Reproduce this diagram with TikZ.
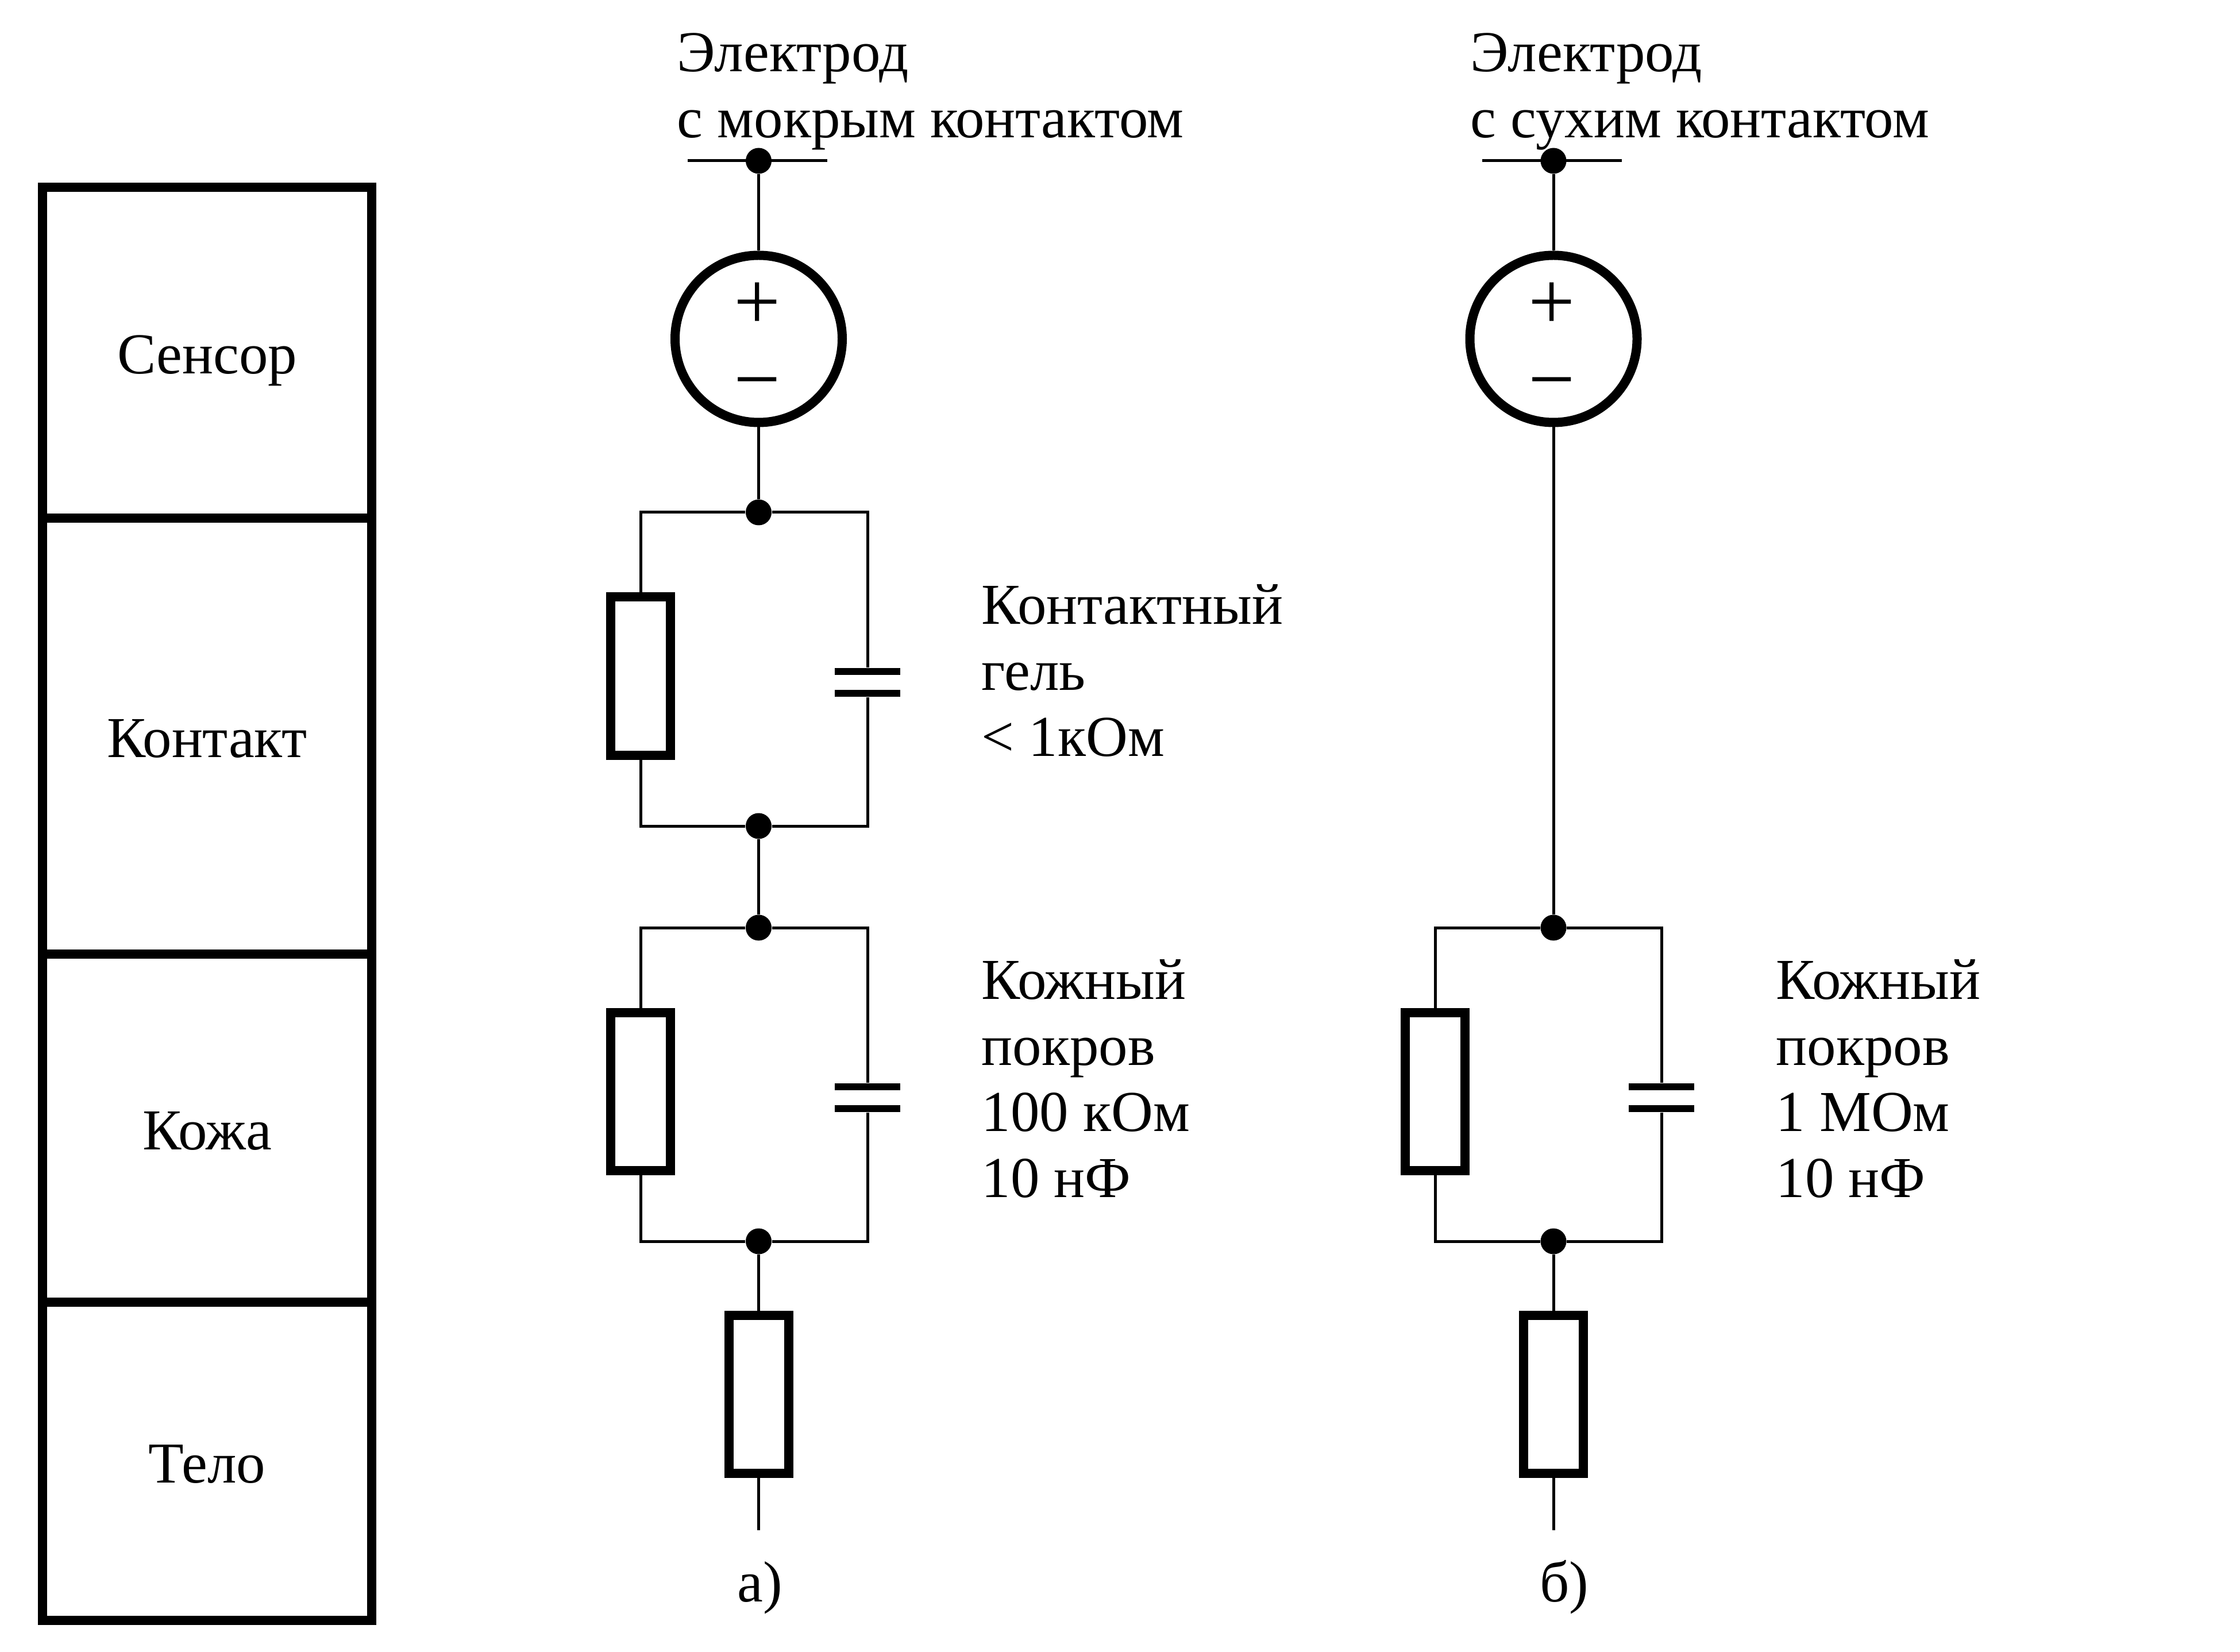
\documentclass[tikz,border=0pt]{standalone}
\usepackage{fontspec}
\setmainfont{Liberation Serif}
\usetikzlibrary{positioning}
\tikzset{
    wire/.style={line width=.05cm},
    junction/.style={circle, fill=black, minimum size=.45cm, inner sep=0pt},
    layerbox/.style={draw, line width=.16cm, minimum width=5.73cm, inner sep=0pt,
          text height=.74cm, text depth=0pt},
    resistor/.style={draw, line width=.16cm, minimum width=1.04cm, minimum height=2.75cm, inner sep=0pt},
    source/.style={circle, draw, line width=.16cm, minimum size=2.91cm, inner sep=0pt},
    plate/.style={fill=black, minimum width=1.14cm, minimum height=.12cm, inner sep=0pt},
    polarity/.style={inner sep=0pt, font=\fontsize{41}{41}\selectfont},
    caption/.style={anchor=north west, align=left, inner sep=0pt}
}
\begin{document}
\begin{tikzpicture}[y=-1cm, font=\fontsize{28.7}{32.7}\selectfont]
    \useasboundingbox (0,0) rectangle (38.99,28.76);
    % layers
    \node[layerbox, minimum height=5.76cm] (sensor) at (3.605,6.14) {Сенсор};
    \node[layerbox, minimum height=7.59cm] (contact) at (3.605,12.815) {Контакт};
    \node[layerbox, minimum height=6.06cm] (skin) at (3.605,19.64) {Кожа};
    \node[layerbox, minimum height=5.54cm] (body) at (3.605,25.44) {Тело};

    % wet electrode
    \node[caption] (wetname) at (11.78,.57) {Электрод\\с мокрым контактом};
    \coordinate (wetbarl) at (11.97,2.8);
    \coordinate (wetbarr) at (14.4,2.8);
    \node[junction] (wettop) at (13.205,2.8) {};
    \node[source] (wetsrc) at (13.205,5.9) {};
    \node[polarity] (wetplus) at (13.18,5.33) {+};
    \node[polarity] (wetminus) at (13.18,6.83) {−};
    \draw[wire] (wetbarl) -- (wetbarr);
    \draw[wire] (wettop) -- (wetsrc);

    \node[junction] (gelup) at (13.205,8.92) {};
    \node[junction] (gellow) at (13.205,14.38) {};
    \node[resistor] (gelres) at (11.15,11.77) {};
    \node[plate] (gelcapa) at (15.1,11.69) {};
    \node[plate] (gelcapb) at (15.1,12.07) {};
    \draw[wire] (wetsrc) -- (gelup);
    \draw[wire] (gelup) -| (gelres.north);
    \draw[wire] (gelres.south) |- (gellow);
    \draw[wire] (gelup) -| (gelcapa.north);
    \draw[wire] (gelcapb.south) |- (gellow);
    \node[caption] (gelname) at (17.08,10.17) {Контактный\\гель\\< 1кОм};

    \node[junction] (wetup) at (13.205,16.15) {};
    \node[junction] (wetlow) at (13.205,21.61) {};
    \node[resistor] (wetres) at (11.15,19) {};
    \node[plate] (wetcapa) at (15.1,18.92) {};
    \node[plate] (wetcapb) at (15.1,19.3) {};
    \draw[wire] (gellow) -- (wetup);
    \draw[wire] (wetup) -| (wetres.north);
    \draw[wire] (wetres.south) |- (wetlow);
    \draw[wire] (wetup) -| (wetcapa.north);
    \draw[wire] (wetcapb.south) |- (wetlow);
    \node[caption] (wetskin) at (17.08,16.7) {Кожный\\покров\\100 кОм\\10 нФ};

    \node[resistor] (wetbody) at (13.205,24.27) {};
    \coordinate[below=.91cm of wetbody.south] (wetend);
    \draw[wire] (wetlow) -- (wetbody);
    \draw[wire] (wetbody) -- (wetend);
    \node[anchor=base, inner sep=0pt] (capa) at (13.23,27.88) {а)};

    % dry electrode
    \node[caption] (dryname) at (25.59,.57) {Электрод\\с сухим контактом};
    \coordinate (drybarl) at (25.8,2.8);
    \coordinate (drybarr) at (28.23,2.8);
    \node[junction] (drytop) at (27.04,2.8) {};
    \node[source] (drysrc) at (27.04,5.9) {};
    \node[polarity] (dryplus) at (27.015,5.33) {+};
    \node[polarity] (dryminus) at (27.015,6.83) {−};
    \draw[wire] (drybarl) -- (drybarr);
    \draw[wire] (drytop) -- (drysrc);

    \node[junction] (dryup) at (27.04,16.15) {};
    \node[junction] (drylow) at (27.04,21.61) {};
    \node[resistor] (dryres) at (24.98,19) {};
    \node[plate] (drycapa) at (28.92,18.92) {};
    \node[plate] (drycapb) at (28.92,19.3) {};
    \draw[wire] (drysrc) -- (dryup);
    \draw[wire] (dryup) -| (dryres.north);
    \draw[wire] (dryres.south) |- (drylow);
    \draw[wire] (dryup) -| (drycapa.north);
    \draw[wire] (drycapb.south) |- (drylow);
    \node[caption] (dryskin) at (30.91,16.7) {Кожный\\покров\\1 МОм\\10 нФ};

    \node[resistor] (drybody) at (27.04,24.27) {};
    \coordinate[below=.91cm of drybody.south] (dryend);
    \draw[wire] (drylow) -- (drybody);
    \draw[wire] (drybody) -- (dryend);
    \node[anchor=base, inner sep=0pt] (capb) at (27.23,27.88) {б)};
\end{tikzpicture}
\end{document}
